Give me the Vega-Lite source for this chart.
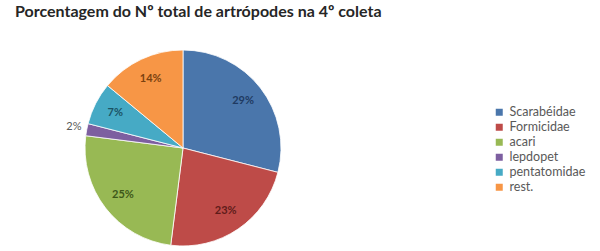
{
  "$schema": "https://vega.github.io/schema/vega-lite/v6.json",
  "width": 366,
  "height": 206,
  "padding": {"top": 4, "left": 0, "right": 0, "bottom": 0},
  "background": "white",
  "title": {
    "text": "Porcentagem  do Nº total de artrópodes na 4º coleta",
    "anchor": "start",
    "dx": 15,
    "offset": 21.5,
    "font": "Lato",
    "fontSize": 16,
    "fontWeight": "bold",
    "color": "#262626"
  },
  "config": {"view": {"stroke": null}, "font": "Lato"},
  "data": {
    "values": [
      {"grupo": "Scarabéidae", "pct": 0.29, "ordem": 1},
      {"grupo": "Formicidae", "pct": 0.23, "ordem": 2},
      {"grupo": "acari", "pct": 0.25, "ordem": 3},
      {"grupo": "lepdopet", "pct": 0.02, "ordem": 4},
      {"grupo": "pentatomidae", "pct": 0.07, "ordem": 5},
      {"grupo": "rest.", "pct": 0.14, "ordem": 6}
    ]
  },
  "layer": [
    {
      "mark": {"type": "arc", "outerRadius": 98, "stroke": "white", "strokeWidth": 0.8},
      "encoding": {
        "theta": {"field": "pct", "type": "quantitative", "stack": true},
        "order": {"field": "ordem", "type": "quantitative"},
        "color": {
          "field": "grupo",
          "type": "nominal",
          "scale": {
            "domain": ["Scarabéidae", "Formicidae", "acari", "lepdopet", "pentatomidae", "rest."],
            "range": ["#4a76ab", "#be4b48", "#98b954", "#7d5fa0", "#46aac5", "#f79646"]
          },
          "legend": {
            "title": null,
            "orient": "none",
            "legendX": 493,
            "legendY": 61,
            "padding": 0,
            "symbolType": "square",
            "symbolSize": 49,
            "symbolStrokeWidth": 0,
            "labelFontSize": 12.5,
            "labelColor": "#595959",
            "labelFont": "Lato",
            "rowPadding": 2,
            "labelOffset": 4
          }
        }
      }
    },
    {
      "mark": {"type": "text", "radius": 76, "fontSize": 11, "fontWeight": "bold", "font": "Lato"},
      "encoding": {
        "theta": {"field": "pct", "type": "quantitative", "stack": true},
        "order": {"field": "ordem", "type": "quantitative"},
        "text": {"condition": {"test": "datum.pct < 0.03", "value": ""}, "field": "pct", "type": "quantitative", "format": ".0%"},
        "fill": {
          "field": "grupo",
          "type": "nominal",
          "scale": {
            "domain": ["Scarabéidae", "Formicidae", "acari", "lepdopet", "pentatomidae", "rest."],
            "range": ["#1f3a61", "#5e1c1a", "#3d5719", "#3d2a57", "#1b5364", "#7a4210"]
          },
          "legend": null
        }
      }
    },
    {
      "mark": {"type": "text", "radius": 111, "fontSize": 11, "font": "Lato", "color": "#595959"},
      "encoding": {
        "theta": {"field": "pct", "type": "quantitative", "stack": true},
        "order": {"field": "ordem", "type": "quantitative"},
        "text": {"condition": {"test": "datum.pct >= 0.03", "value": ""}, "field": "pct", "type": "quantitative", "format": ".0%"}
      }
    }
  ]
}
